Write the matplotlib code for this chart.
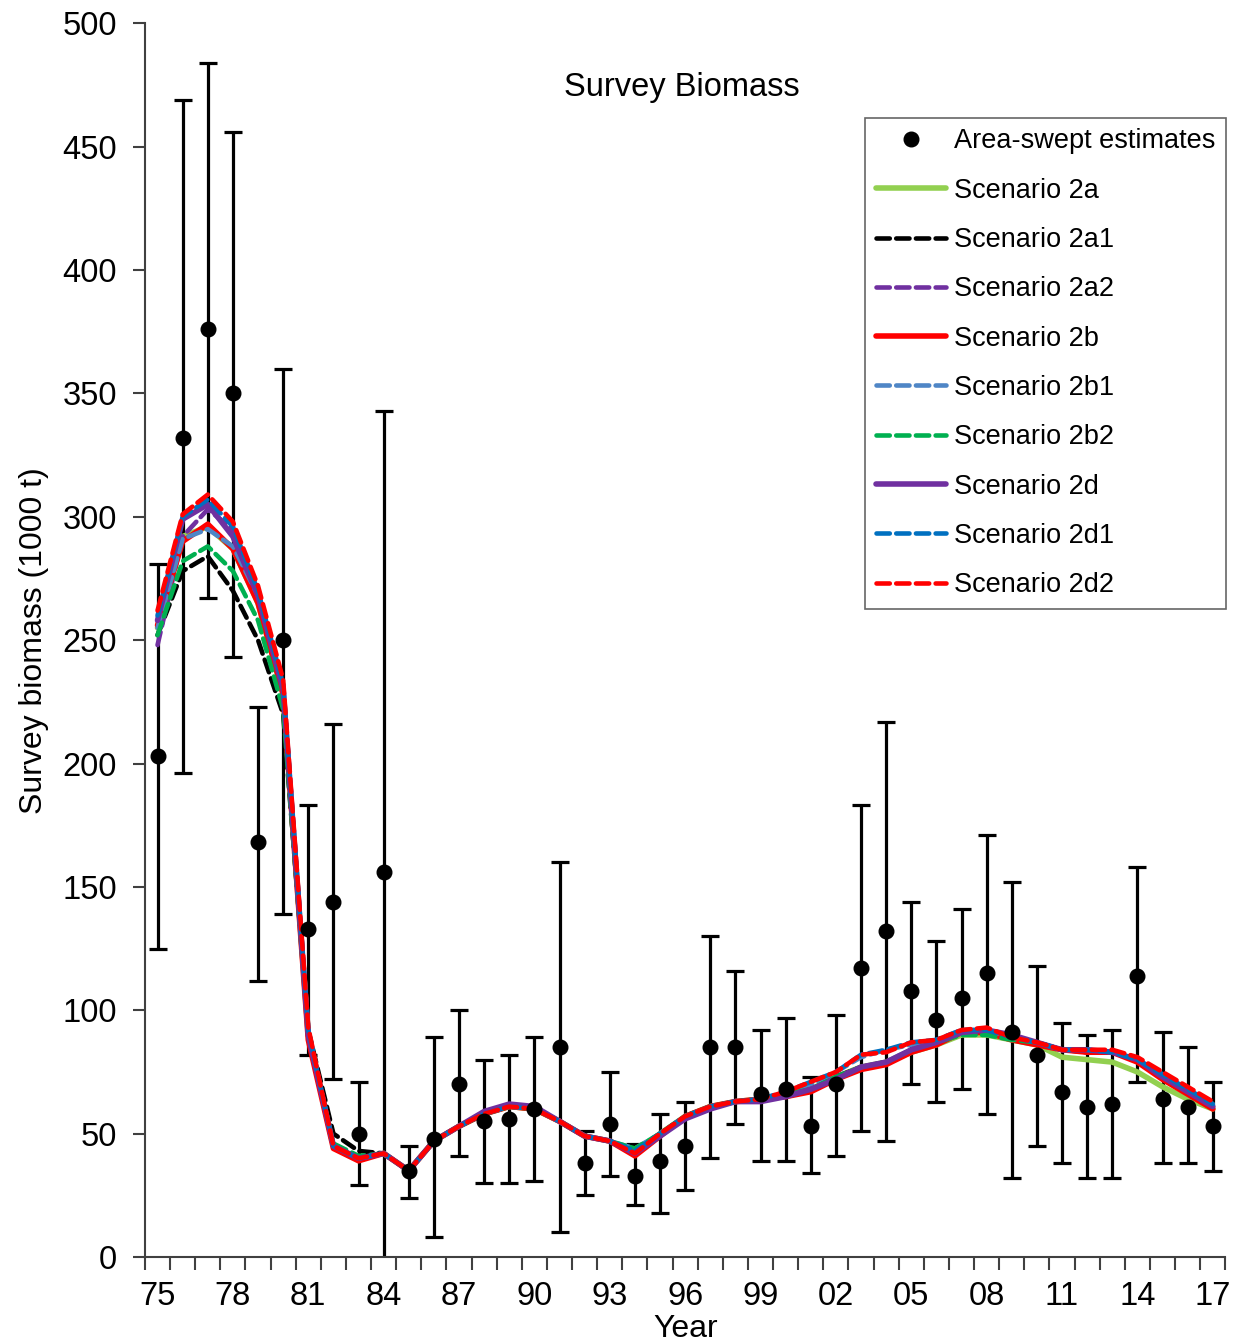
import numpy as np
import matplotlib
matplotlib.use('Agg')
import matplotlib.pyplot as plt
from matplotlib.lines import Line2D

plt.rcParams['font.family'] = ['Liberation Sans', 'DejaVu Sans']

# Survey years 1975-2017
years = np.arange(1975, 2018)

# Area-swept estimates with error bar limits
obs = [203, 332, 376, 350, 168, 250, 133, 144, 50, 156,
       35, 48, 70, 55, 56, 60, 85, 38, 54, 33,
       39, 45, 85, 85, 66, 68, 53, 70, 117, 132,
       108, 96, 105, 115, 91, 82, 67, 61, 62, 114,
       64, 61, 53]
obs_hi = [281, 469, 484, 456, 223, 360, 183, 216, 71, 343,
          45, 89, 100, 80, 82, 89, 160, 51, 75, 46,
          58, 63, 130, 116, 92, 97, 73, 98, 183, 217,
          144, 128, 141, 171, 152, 118, 95, 90, 92, 158,
          91, 85, 71]
obs_lo = [125, 196, 267, 243, 112, 139, 82, 72, 29, -31,
          24, 8, 41, 30, 30, 31, 10, 25, 33, 21,
          18, 27, 40, 54, 39, 39, 34, 41, 51, 47,
          70, 63, 68, 58, 32, 45, 38, 32, 32, 71,
          38, 38, 35]

# model fits
s2a = [255, 292, 296, 287, 265, 228, 90, 45, 40, 42,
       35, 47, 53, 58, 61, 60, 55, 49, 47, 42,
       50, 57, 61, 63, 64, 66, 68, 73, 77, 79,
       83, 86, 90, 90, 88, 86, 81, 80, 79, 75,
       69, 64, 60]
s2a1 = [252, 278, 284, 270, 250, 220, 92, 50, 43, 42,
        35, 47, 53, 58, 61, 60, 55, 49, 47, 43,
        50, 57, 61, 63, 64, 66, 68, 73, 77, 79,
        84, 87, 91, 91, 89, 87, 84, 83, 83, 80,
        73, 67, 61]
s2a2 = [248, 292, 303, 295, 268, 228, 90, 45, 40, 42,
        35, 47, 53, 58, 62, 60, 55, 49, 47, 42,
        50, 57, 61, 63, 63, 66, 68, 73, 77, 79,
        84, 87, 91, 91, 89, 87, 84, 84, 83, 80,
        73, 67, 61]
s2b = [256, 290, 297, 287, 265, 228, 88, 44, 39, 42,
       35, 47, 53, 58, 61, 60, 55, 49, 47, 41,
       49, 57, 61, 63, 64, 65, 67, 72, 76, 78,
       83, 86, 91, 91, 88, 86, 84, 83, 83, 79,
       72, 66, 60]
s2b1 = [255, 291, 295, 288, 268, 232, 92, 45, 40, 42,
        35, 47, 53, 58, 61, 60, 55, 49, 47, 44,
        50, 57, 61, 63, 64, 67, 70, 75, 81, 84,
        86, 88, 92, 92, 89, 87, 84, 84, 83, 80,
        74, 68, 62]
s2b2 = [252, 282, 288, 278, 258, 222, 90, 46, 41, 42,
        35, 47, 53, 58, 61, 60, 55, 49, 47, 44,
        50, 57, 61, 63, 64, 66, 68, 73, 77, 79,
        84, 87, 90, 90, 88, 87, 84, 84, 83, 80,
        73, 67, 61]
s2d = [258, 299, 305, 292, 268, 230, 90, 45, 40, 42,
       35, 47, 53, 59, 62, 61, 55, 49, 47, 42,
       49, 56, 60, 63, 63, 65, 68, 72, 77, 79,
       84, 87, 91, 92, 90, 87, 84, 84, 83, 80,
       73, 67, 61]
s2d1 = [260, 300, 307, 296, 270, 232, 92, 45, 40, 42,
        35, 47, 53, 58, 61, 60, 55, 49, 47, 43,
        50, 57, 61, 63, 64, 67, 71, 75, 82, 84,
        87, 88, 92, 92, 89, 87, 84, 84, 83, 80,
        74, 68, 62]
s2d2 = [262, 301, 309, 298, 272, 234, 93, 45, 40, 42,
        35, 47, 53, 58, 61, 60, 55, 49, 47, 42,
        50, 57, 61, 63, 64, 67, 71, 75, 82, 83,
        87, 88, 92, 93, 89, 87, 84, 84, 84, 81,
        75, 69, 63]

tick_years = [1975, 1978, 1981, 1984, 1987, 1990, 1993, 1996, 1999,
              2002, 2005, 2008, 2011, 2014, 2017]
tick_labels = ['75', '78', '81', '84', '87', '90', '93', '96', '99',
               '02', '05', '08', '11', '14', '17']

fig = plt.figure(figsize=(12.39, 13.44), dpi=100)
ax = fig.add_axes([0.117, 0.0647, 0.872, 0.918])

dash = (2.9, 1.4)
series = [
    (s2a, 'Scenario 2a', '#92D050', None, 4.0),
    (s2a1, 'Scenario 2a1', 'black', dash, 3.3),
    (s2a2, 'Scenario 2a2', '#7030A0', dash, 3.3),
    (s2b, 'Scenario 2b', '#FF0000', None, 4.0),
    (s2b1, 'Scenario 2b1', '#4F86C6', dash, 3.3),
    (s2b2, 'Scenario 2b2', '#00B050', dash, 3.3),
    (s2d, 'Scenario 2d', '#7030A0', None, 4.0),
    (s2d1, 'Scenario 2d1', '#0070C0', dash, 3.3),
    (s2d2, 'Scenario 2d2', '#FF0000', dash, 3.3),
]

obs_arr = np.array(obs)
yerr = [obs_arr - np.array(obs_lo), np.array(obs_hi) - obs_arr]
ax.errorbar(years, obs, yerr=yerr, fmt='none', ecolor='black',
            elinewidth=2.3, capsize=6.5, capthick=2.3, zorder=1)

handles = [Line2D([], [], ls='none', marker='o', color='black', ms=10.5,
                  label='Area-swept estimates')]
for vals, name, col, ds, lw in series:
    if ds is None:
        ln, = ax.plot(years, vals, color=col, lw=lw, label=name, zorder=2,
                      solid_capstyle='round')
    else:
        ln, = ax.plot(years, vals, color=col, lw=lw, label=name, zorder=2,
                      dashes=ds, dash_capstyle='round')
    handles.append(ln)
ax.plot(years, obs, 'o', color='black', ms=10.5, zorder=3)

ax.set_xlim(1974.5, 2017.5)
ax.set_ylim(0, 500)
ax.set_yticks(np.arange(0, 501, 50))

# tick marks at category boundaries, labels at every third year
ax.set_xticks(np.arange(1974.5, 2018, 1.0))
ax.set_xticklabels([])
ax.set_xticks(tick_years, minor=True)
ax.set_xticklabels(tick_labels, minor=True)
ax.tick_params(axis='x', which='major', length=9, width=1.5, color='#404040')
ax.tick_params(axis='x', which='minor', length=0, labelsize=23.5, pad=17)
ax.tick_params(axis='y', length=9, width=1.5, color='#404040', labelsize=23.5, pad=11)

for side in ['top', 'right']:
    ax.spines[side].set_visible(False)
for side in ['left', 'bottom']:
    ax.spines[side].set_color('#404040')
    ax.spines[side].set_linewidth(1.5)

ax.set_ylabel('Survey biomass (1000 t)', fontsize=23, labelpad=10)
ax.set_xlabel('Year', fontsize=23, labelpad=2)
ax.text(0.497, 0.948, 'Survey Biomass', transform=ax.transAxes, fontsize=23.5,
        ha='center', va='center')

leg = ax.legend(handles=handles, loc='upper right', bbox_to_anchor=(1.001, 0.9235),
                fontsize=19.5, frameon=True, fancybox=False, edgecolor='#404040',
                handlelength=2.6, handletextpad=0.3, labelspacing=0.86,
                borderpad=0.4, borderaxespad=0.0)
leg.get_frame().set_linewidth(1.2)

fig.savefig('out.png', dpi=100)
